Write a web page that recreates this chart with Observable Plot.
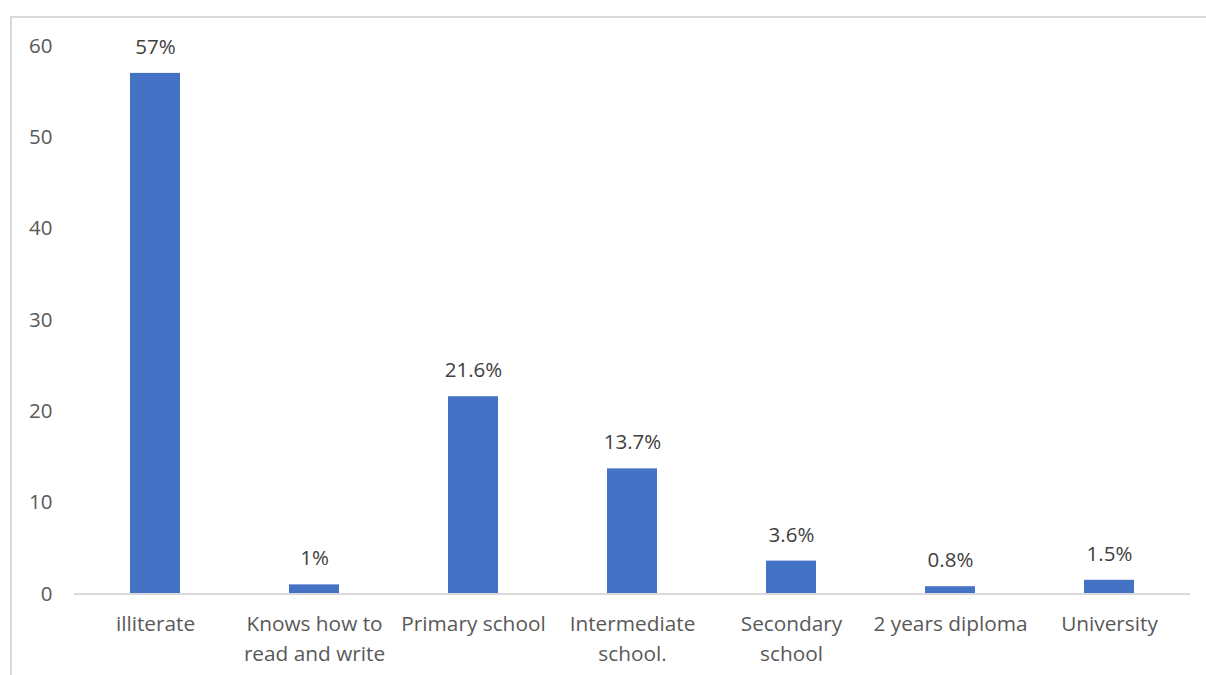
<!DOCTYPE html>
<html>
<head>
<meta charset="utf-8">
<script src="https://cdn.jsdelivr.net/npm/d3@7"></script>
<script src="https://cdn.jsdelivr.net/npm/@observablehq/plot@0.6"></script>
<style>
  html, body { margin: 0; padding: 0; background: #fff; }
  #wrap { position: relative; width: 1206px; height: 675px; overflow: hidden; }
  #border { position: absolute; left: 10px; top: 16px; width: 1300px; height: 800px;
            border-top: 2px solid #d9d9d9; border-left: 2px solid #d9d9d9; box-sizing: border-box; }
  #chart { position: absolute; left: 0; top: 0; }
</style>
</head>
<body>
<div id="wrap"><div id="border"></div><div id="chart"></div></div>
<script>
// Education level distribution (percent of respondents)
const categories = [
  "illiterate",
  "Knows how to\nread and write",
  "Primary school",
  "Intermediate\nschool.",
  "Secondary\nschool",
  "2 years diploma",
  "University"
];
const values = [57, 1, 21.6, 13.7, 3.6, 0.8, 1.5];
const valueLabels = ["57%", "1%", "21.6%", "13.7%", "3.6%", "0.8%", "1.5%"];
const yTicks = [0, 10, 20, 30, 40, 50, 60];

const data = categories.map((c, i) => ({category: c, value: values[i], label: valueLabels[i]}));

const font = "'Open Sans', sans-serif";

const chart = Plot.plot({
  width: 1206,
  height: 675,
  marginLeft: 74,
  marginRight: 16,
  marginTop: 45.5,
  marginBottom: 81.5,
  style: {fontFamily: font, background: "transparent"},
  x: {domain: categories, paddingInner: 0.686, paddingOuter: 0.343, label: null},
  y: {domain: [0, 60], label: null},
  marks: [
    Plot.barY(data, {x: "category", y: "value", fill: "#4472c4"}),
    Plot.ruleY([0], {stroke: "#d9d9d9", strokeWidth: 2}),
    Plot.text(data, {x: "category", y: "value", text: "label", dy: -26,
      fill: "#404040", fontSize: 20.5}),
    Plot.axisY({ticks: yTicks, tickSize: 0, tickPadding: 22, fontSize: 20.5,
      color: "#595959", label: null}),
    Plot.axisX({tickSize: 0, tickPadding: 15.5, fontSize: 20.8, lineHeight: 1.45,
      color: "#595959", label: null})
  ]
});
document.getElementById("chart").appendChild(chart);
</script>
</body>
</html>
